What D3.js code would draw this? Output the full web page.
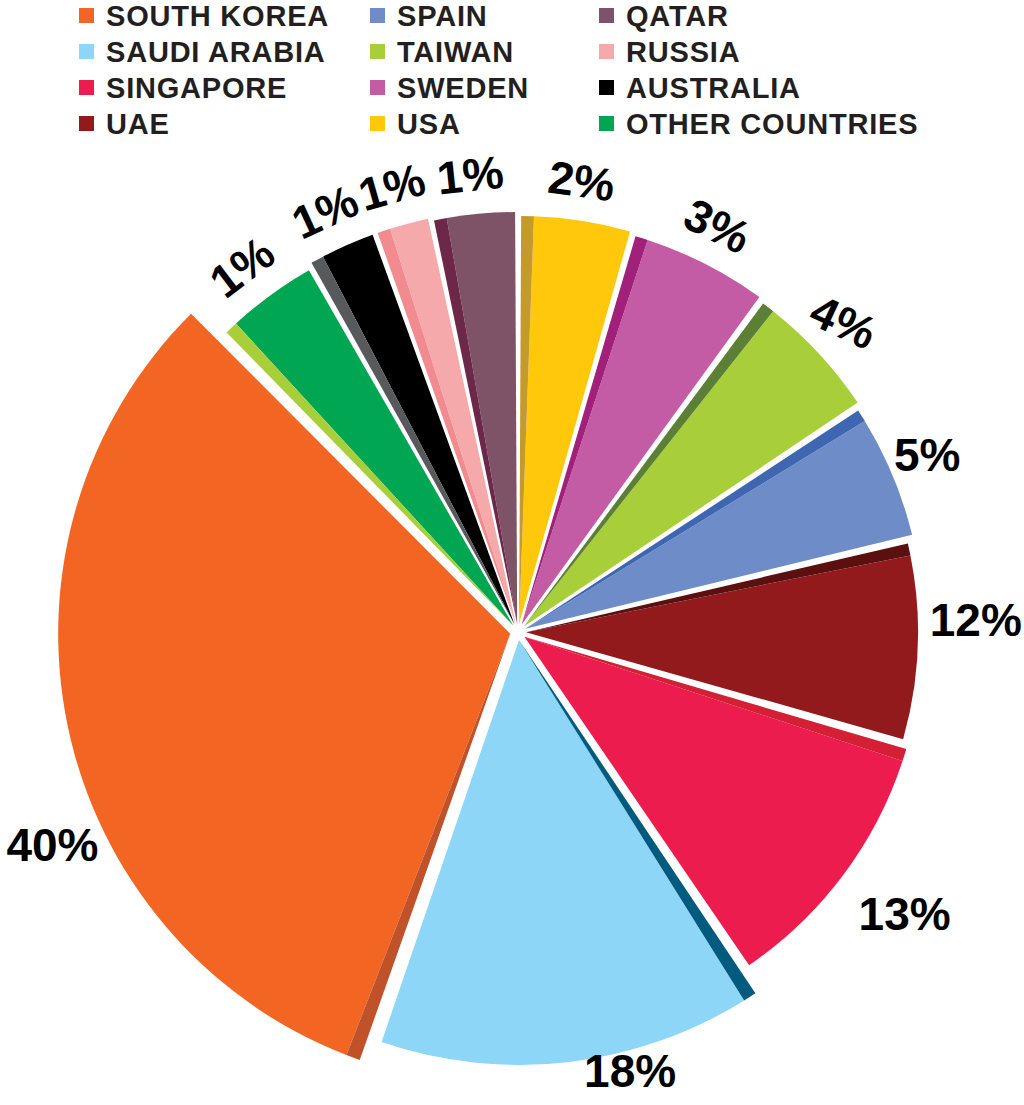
<!DOCTYPE html>
<html><head><meta charset="utf-8">
<script src="https://cdn.jsdelivr.net/npm/d3@7"></script>
<style>body{margin:0;background:#fff}</style>
</head><body>
<div class="pie"></div>
<script>
// data, clockwise from the top
const countries = ["USA", "SWEDEN", "TAIWAN", "SPAIN", "UAE", "SINGAPORE", "SAUDI ARABIA", "SOUTH KOREA", "OTHER COUNTRIES", "AUSTRALIA", "RUSSIA", "QATAR"]
const shares = [2, 3, 4, 5, 12, 13, 18, 40, 1, 1, 1, 1]
// the picture does not draw slices in proportion to the shares: drawn spans in degrees, read off it
const drawnSpans = [15, 19, 19, 19, 28, 38, 51, 112, 14, 9, 7, 11]
const legendOrder = ["SOUTH KOREA", "SAUDI ARABIA", "SINGAPORE", "UAE", "SPAIN", "TAIWAN", "SWEDEN", "USA", "QATAR", "RUSSIA", "AUSTRALIA", "OTHER COUNTRIES"]

const fills = {
  "SOUTH KOREA": "#f26522", "SAUDI ARABIA": "#8dd6f7", "SINGAPORE": "#ed1c4f", "UAE": "#921a1d",
  "SPAIN": "#6d8cc8", "TAIWAN": "#a8cf3a", "SWEDEN": "#c45ca5", "USA": "#ffc80a",
  "QATAR": "#7e5267", "RUSSIA": "#f6a9ab", "AUSTRALIA": "#000000", "OTHER COUNTRIES": "#00a651"
}
const edges = {
  "SOUTH KOREA": "#c0522a", "SAUDI ARABIA": "#005b7f", "SINGAPORE": "#d41f35", "UAE": "#5c0f0f",
  "SPAIN": "#3f67b1", "TAIWAN": "#5a7f35", "SWEDEN": "#a0207a", "USA": "#c49a2c",
  "QATAR": "#6d2748", "RUSSIA": "#f28b8f", "AUSTRALIA": "#58595b", "OTHER COUNTRIES": "#a8cf3a"
}
const radii = {
  "SOUTH KOREA": 452, "SAUDI ARABIA": 425, "SINGAPORE": 398, "UAE": 392, "SPAIN": 398, "TAIWAN": 402,
  "SWEDEN": 405, "USA": 408, "QATAR": 412, "RUSSIA": 415, "AUSTRALIA": 415, "OTHER COUNTRIES": 410
}
// label placement tweaks: extra radius and angle shift (degrees)
const labelPos = {
  "SOUTH KOREA": [52, -12], "SAUDI ARABIA": [20, -7], "SINGAPORE": [72, 0], "UAE": [58, -3]
}

const cx = 518, cy = 632, explode = 8
const edgeAngle = 1.8 * Math.PI / 180

const svg = d3.select(".pie").append("svg").attr("width", 1024).attr("height", 1105)

// legend
const lg = svg.append("g")
legendOrder.forEach((name, i) => {
  const col = Math.floor(i / 4), row = i % 4
  const g = lg.append("g").attr("transform", `translate(${[79, 370, 599][col]},${16 + row * 36})`)
  g.append("rect").attr("x", 0).attr("y", -8).attr("width", 15).attr("height", 15).attr("fill", fills[name])
  g.append("text").attr("x", 27).attr("y", 0).attr("dy", "0.36em")
    .style("font", "600 29px 'Liberation Sans', Arial, sans-serif").style("letter-spacing", "0.8px")
    .attr("fill", "#231f20").text(name)
})

const pie = d3.pie().sort(null).value((d, i) => drawnSpans[i]).padAngle(0.01)
  .startAngle(0).endAngle(2 * Math.PI)
const arcs = pie(countries.map((c, i) => ({ c: c, v: shares[i] })))

const g = svg.append("g").attr("transform", `translate(${cx},${cy})`)
arcs.forEach(a => {
  const name = a.data.c, r = radii[name]
  const mid = (a.startAngle + a.endAngle) / 2
  const dx = Math.sin(mid) * explode, dy = -Math.cos(mid) * explode
  const s = g.append("g").attr("transform", `translate(${dx},${dy})`)
  const arc = d3.arc().innerRadius(0).outerRadius(r)
  const a0 = a.startAngle + a.padAngle / 2, a1 = a.endAngle - a.padAngle / 2
  s.append("path").attr("fill", fills[name])
    .attr("d", arc({ startAngle: a0 + edgeAngle, endAngle: a1 }))
  s.append("path").attr("fill", edges[name])
    .attr("d", arc({ startAngle: a0, endAngle: a0 + edgeAngle }))

  // label
  const lp = labelPos[name] || [40, 0]
  const la = mid + lp[1] * Math.PI / 180
  const lr = r + lp[0]
  const lx = Math.sin(la) * lr, ly = -Math.cos(la) * lr
  let rot = 0
  if (a.data.v <= 3) rot = mid * 180 / Math.PI
  if (rot > 180) rot -= 360
  if (a.data.v === 4) rot = 25
  s.append("text")
    .attr("transform", `translate(${lx},${ly}) rotate(${rot})`)
    .attr("text-anchor", "middle").attr("dy", "0.36em")
    .style("font", "bold 46px 'Liberation Sans', Arial, sans-serif").attr("fill", "#000")
    .text(a.data.v + "%")
})
</script>
</body></html>
